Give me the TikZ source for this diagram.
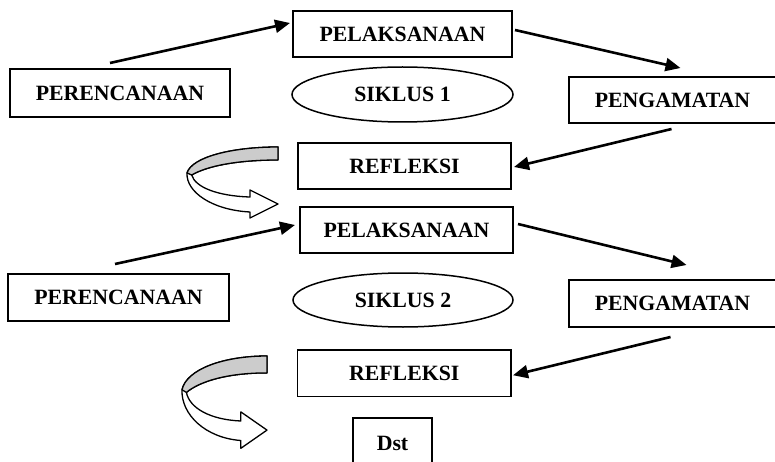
\documentclass[tikz,border=0pt]{standalone}
\usepackage{fontspec}
\setmainfont{Liberation Serif}
\usetikzlibrary{arrows.meta,shapes.geometric}
\begin{document}
\begin{tikzpicture}[x=1pt,y=-1pt,
  box/.style={draw,line width=1.8pt,inner sep=0pt,outer sep=0pt,
    font=\fontsize{21.8}{26}\selectfont\bfseries},
  oval/.style={box,ellipse,line width=1.5pt},
  conn/.style={line width=2.6pt,-{Triangle[length=15pt,width=13pt]}},
  curarrow/.style={line width=1.3pt,line join=round}
]
\useasboundingbox (0,0) rectangle (775,462);
\clip (0,0) rectangle (775,462);

% cycle 1
\node[box,minimum width=219pt,minimum height=46pt] (pel1) at (402.5,34) {PELAKSANAAN};
\node[box,minimum width=220pt,minimum height=48pt] (per1) at (120,93) {PERENCANAAN};
\node[oval,minimum width=221pt,minimum height=55pt] (sik1) at (402.5,94.5) {SIKLUS 1};
\node[box,minimum width=207pt,minimum height=46pt] (pen1) at (672.5,100) {PENGAMATAN};
\node[box,minimum width=213pt,minimum height=46pt] (ref1) at (404.5,166) {REFLEKSI};

% cycle 2
\node[box,minimum width=213pt,minimum height=46pt] (pel2) at (406.5,230) {PELAKSANAAN};
\node[box,minimum width=221pt,minimum height=47pt] (per2) at (118.5,297.5) {PERENCANAAN};
\node[oval,minimum width=220pt,minimum height=54pt] (sik2) at (403,300) {SIKLUS 2};
\node[box,minimum width=207pt,minimum height=47pt] (pen2) at (672.5,303.5) {PENGAMATAN};
\node[box,minimum width=213.5pt,minimum height=46.5pt] (ref2) at (404.25,373.25) {REFLEKSI};

\node[box,minimum width=79pt,minimum height=52pt,text depth=0pt] (dst) at (392.5,444) {\raisebox{2pt}{Dst}};

% free tails
\coordinate (t1) at (110,63);
\coordinate (t2) at (115,264);

% connectors
\draw[conn] (t1) -- ([xshift=-3pt,yshift=11pt]pel1.west);
\draw[conn] ([xshift=3pt,yshift=4pt]pel1.east) -- ([xshift=8pt,yshift=9pt]pen1.north);
\draw[conn] ([xshift=-1pt,yshift=-6pt]pen1.south) -- ([xshift=3pt,yshift=-1pt]ref1.east);
\draw[conn] (t2) -- ([xshift=-5pt,yshift=5pt]pel2.west);
\draw[conn] ([xshift=5pt,yshift=6pt]pel2.east) -- ([xshift=14pt,yshift=15pt]pen2.north);
\draw[conn] ([xshift=-2pt,yshift=-10pt]pen2.south) -- ([xshift=2pt,yshift=-2pt]ref2.east);

% curved arrows
\begin{scope}[shift={(187,147)}]
  \draw[curarrow,fill=white] (91,0) .. controls (45,0) and (5,10) .. (0,26)
    .. controls (-1,45) and (25,63) .. (63,65) -- (63,71) -- (91,57) -- (63,43) -- (63,50)
    .. controls (30,49) and (8,40) .. (4.7,28)
    .. controls (20,19) and (50,13) .. (91,13) -- cycle;
  \draw[curarrow,fill=gray!40] (91,0) .. controls (45,0) and (5,10) .. (0,26)
    -- (4.7,28) .. controls (20,19) and (50,13) .. (91,13) -- cycle;
\end{scope}
\begin{scope}[shift={(182,356)},xscale=0.934,yscale=1.3]
  \draw[curarrow,fill=white] (91,0) .. controls (45,0) and (5,10) .. (0,26)
    .. controls (-1,45) and (25,63) .. (63,65) -- (63,71) -- (91,57) -- (63,43) -- (63,50)
    .. controls (30,49) and (8,40) .. (4.7,28)
    .. controls (20,19) and (50,13) .. (91,13) -- cycle;
  \draw[curarrow,fill=gray!40] (91,0) .. controls (45,0) and (5,10) .. (0,26)
    -- (4.7,28) .. controls (20,19) and (50,13) .. (91,13) -- cycle;
\end{scope}
\end{tikzpicture}
\end{document}
